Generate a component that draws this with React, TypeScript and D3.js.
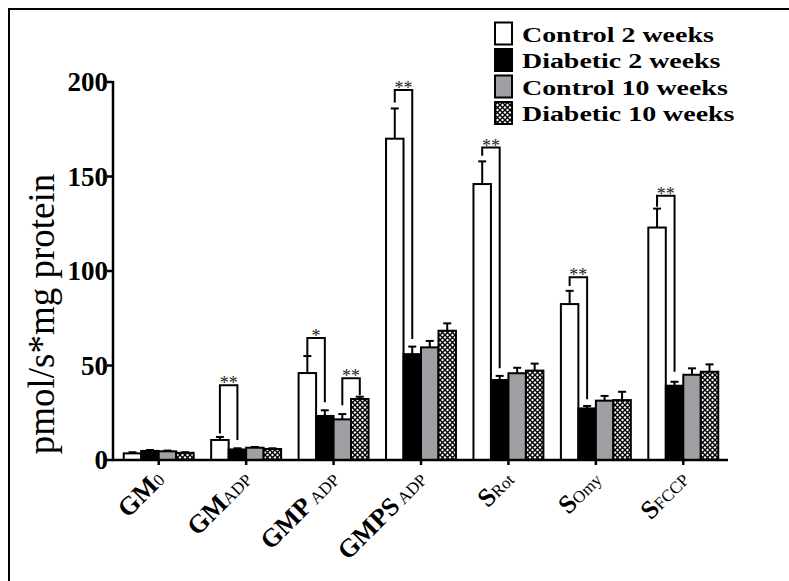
import React from "react";
import * as d3 from "d3";

const categories = ["GM0", "GMADP", "GMPADP", "GMPSADP", "SRot", "SOmy", "SFCCP"];
const labelMain = ["GM", "GM", "GMP", "GMPS", "S", "S", "S"];
const labelSub = ["0", "ADP", "ADP", "ADP", "Rot", "Omy", "FCCP"];
const labelGap = [0, 0, 4, 4, 0, 0, 0];

const seriesNames = ["Control 2 weeks", "Diabetic 2 weeks", "Control 10 weeks", "Diabetic 10 weeks"];
const control2 = [3.5, 10.6, 46, 170, 146, 82.5, 123];
const control2Err = [0.6, 1.6, 9, 16, 12, 7, 10];
const diabetic2 = [4.8, 5.6, 23.3, 56, 42.3, 27.3, 39.3];
const diabetic2Err = [0.5, 0.6, 3, 4, 2.2, 1.3, 2.1];
const control10 = [4.6, 6.5, 21.5, 59.6, 45.9, 31.4, 45.1];
const control10Err = [0.4, 0.4, 2.8, 3.4, 2.9, 2.5, 3.4];
const diabetic10 = [3.8, 5.8, 32.3, 68.4, 47.3, 31.7, 46.7];
const diabetic10Err = [0.3, 0.4, 1.2, 3.9, 3.7, 4.4, 3.9];

const yTicks = [0, 50, 100, 150, 200];

const bracketCategory = ["GMADP", "GMPADP", "GMPADP", "GMPSADP", "SRot", "SOmy", "SFCCP"];
const bracketFrom = [0, 0, 2, 0, 0, 0, 0];
const bracketTo = [1, 1, 3, 1, 1, 1, 1];
const bracketTop = [39.5, 64.5, 43.2, 195.8, 165.3, 96.7, 139.8];
const bracketLeftEnd = [14, 55.5, 29, 189.2, 161, 92, 134];
const bracketRightEnd = [10.6, 30.6, 34.4, 64, 48.5, 32.2, 46.7];
const bracketLabel = ["**", "*", "**", "**", "**", "**", "**"];

const values = [control2, diabetic2, control10, diabetic10];
const errors = [control2Err, diabetic2Err, control10Err, diabetic10Err];
const fills = ["#ffffff", "#000000", "#a0a0a4", "url(#hatch)"];

const SERIF = "Liberation Serif";
const SUB_SIZE = 17;
const MAIN_SIZE = 26;

function measure(text: string, font: string): number {
  try {
    const cv = document.createElement("canvas");
    const ctx = cv.getContext("2d");
    if (ctx) {
      ctx.font = font;
      return ctx.measureText(text).width;
    }
  } catch (e) {
    /* ignore */
  }
  return text.length * SUB_SIZE * 0.6;
}

export default function App() {
  const W = 789;
  const H = 581;
  const y = d3.scaleLinear().domain([0, 200]).range([460, 82]);
  const x0 = d3.scaleBand<string>().domain(categories).range([115, 727]).padding(0);
  const x1 = d3
    .scaleBand<number>()
    .domain([0, 1, 2, 3])
    .range([0, x0.bandwidth()])
    .paddingInner(0)
    .paddingOuter(0.5);
  const bw = x1.bandwidth();
  const center = (c: string, s: number) => (x0(c) as number) + (x1(s) as number) + bw / 2;
  const K = Math.SQRT1_2;

  return (
    <div style={{ position: "absolute", left: 0, top: 0 }}>
      <svg width={W} height={H} style={{ display: "block", background: "#fff", fontFamily: SERIF }}>
        <defs>
          <pattern id="hatch" patternUnits="userSpaceOnUse" width="5" height="5">
            <rect width="5" height="5" fill="#fff" />
            <path d="M0,0 L5,5 M5,0 L0,5" stroke="#000" strokeWidth="1.4" />
          </pattern>
        </defs>
        {/* frame */}
        <line x1={8} y1={9} x2={W} y2={9} stroke="#000" strokeWidth={2} />
        <line x1={9} y1={8} x2={9} y2={H} stroke="#000" strokeWidth={2} />

        {/* bars */}
        {categories.map((c, ci) => (
          <g key={c}>
            {values.map((vals, si) => {
              const xl = (x0(c) as number) + (x1(si) as number);
              const top = y(vals[ci]);
              const cx = xl + bw / 2;
              const et = y(vals[ci] + errors[si][ci]);
              return (
                <g key={si}>
                  <line x1={cx} x2={cx} y1={top} y2={et} stroke="#000" strokeWidth={2} />
                  <line x1={cx - 4} x2={cx + 4} y1={et} y2={et} stroke="#000" strokeWidth={2} />
                  <rect
                    x={xl}
                    y={top}
                    width={bw}
                    height={y(0) - top}
                    fill={fills[si]}
                    stroke="#000"
                    strokeWidth={2}
                  />
                </g>
              );
            })}
          </g>
        ))}

        {/* brackets */}
        {bracketCategory.map((c, i) => {
          const xa = center(c, bracketFrom[i]);
          const xb = center(c, bracketTo[i]);
          const yt = y(bracketTop[i]);
          return (
            <g key={i}>
              <path
                d={`M${xa},${y(bracketLeftEnd[i])} V${yt} H${xb} V${y(bracketRightEnd[i])}`}
                fill="none"
                stroke="#000"
                strokeWidth={2}
              />
              <text x={(xa + xb) / 2} y={yt + 4} textAnchor="middle" fontSize={18} fill="#222">
                {bracketLabel[i]}
              </text>
            </g>
          );
        })}

        {/* y axis */}
        <line x1={113} x2={113} y1={y(200) - 1} y2={y(0) + 1} stroke="#000" strokeWidth={2.5} />
        {yTicks.map((t) => (
          <g key={t}>
            <line x1={107} x2={113} y1={y(t)} y2={y(t)} stroke="#000" strokeWidth={2.5} />
            <text x={108} y={y(t) + 9} textAnchor="end" fontWeight="bold" fontSize={27}>
              {t}
            </text>
          </g>
        ))}
        {/* x axis */}
        <line x1={112} x2={728} y1={y(0)} y2={y(0)} stroke="#000" strokeWidth={2.5} />
        {categories.map((c) => {
          const tx = (x0(c) as number) + x0.bandwidth() / 2;
          return <line key={c} x1={tx} x2={tx} y1={y(0)} y2={y(0) + 5} stroke="#000" strokeWidth={2.5} />;
        })}
        {categories.map((c, ci) => {
          const tx = (x0(c) as number) + x0.bandwidth() / 2;
          const ex = tx + 7;
          const ey = 481;
          const subW = measure(labelSub[ci], `${SUB_SIZE}px "${SERIF}"`) + labelGap[ci];
          const mx = ex - subW * K;
          const my = ey + subW * K;
          return (
            <g key={"lab" + c}>
              <g transform={`translate(${ex},${ey}) rotate(-45)`}>
                <text textAnchor="end" fontSize={SUB_SIZE}>
                  {labelSub[ci]}
                </text>
              </g>
              <g transform={`translate(${mx},${my}) rotate(-45)`}>
                <text textAnchor="end" fontWeight="bold" fontSize={MAIN_SIZE}>
                  {labelMain[ci]}
                </text>
              </g>
            </g>
          );
        })}

        {/* y title */}
        <g transform="translate(54,314) rotate(-90)">
          <text textAnchor="middle" fontSize={37}>
            pmol/s*mg protein
          </text>
        </g>

        {/* legend */}
        {seriesNames.map((n, i) => {
          const cy = 33.5 + i * 26.5;
          return (
            <g key={n}>
              <rect x={495} y={cy - 11} width={17} height={22} fill={fills[i]} stroke="#000" strokeWidth={2} />
              <g transform={`translate(522,${cy + 8}) scale(1.27,1)`}>
                <text fontWeight="bold" fontSize={22}>
                  {n}
                </text>
              </g>
            </g>
          );
        })}
      </svg>
    </div>
  );
}
